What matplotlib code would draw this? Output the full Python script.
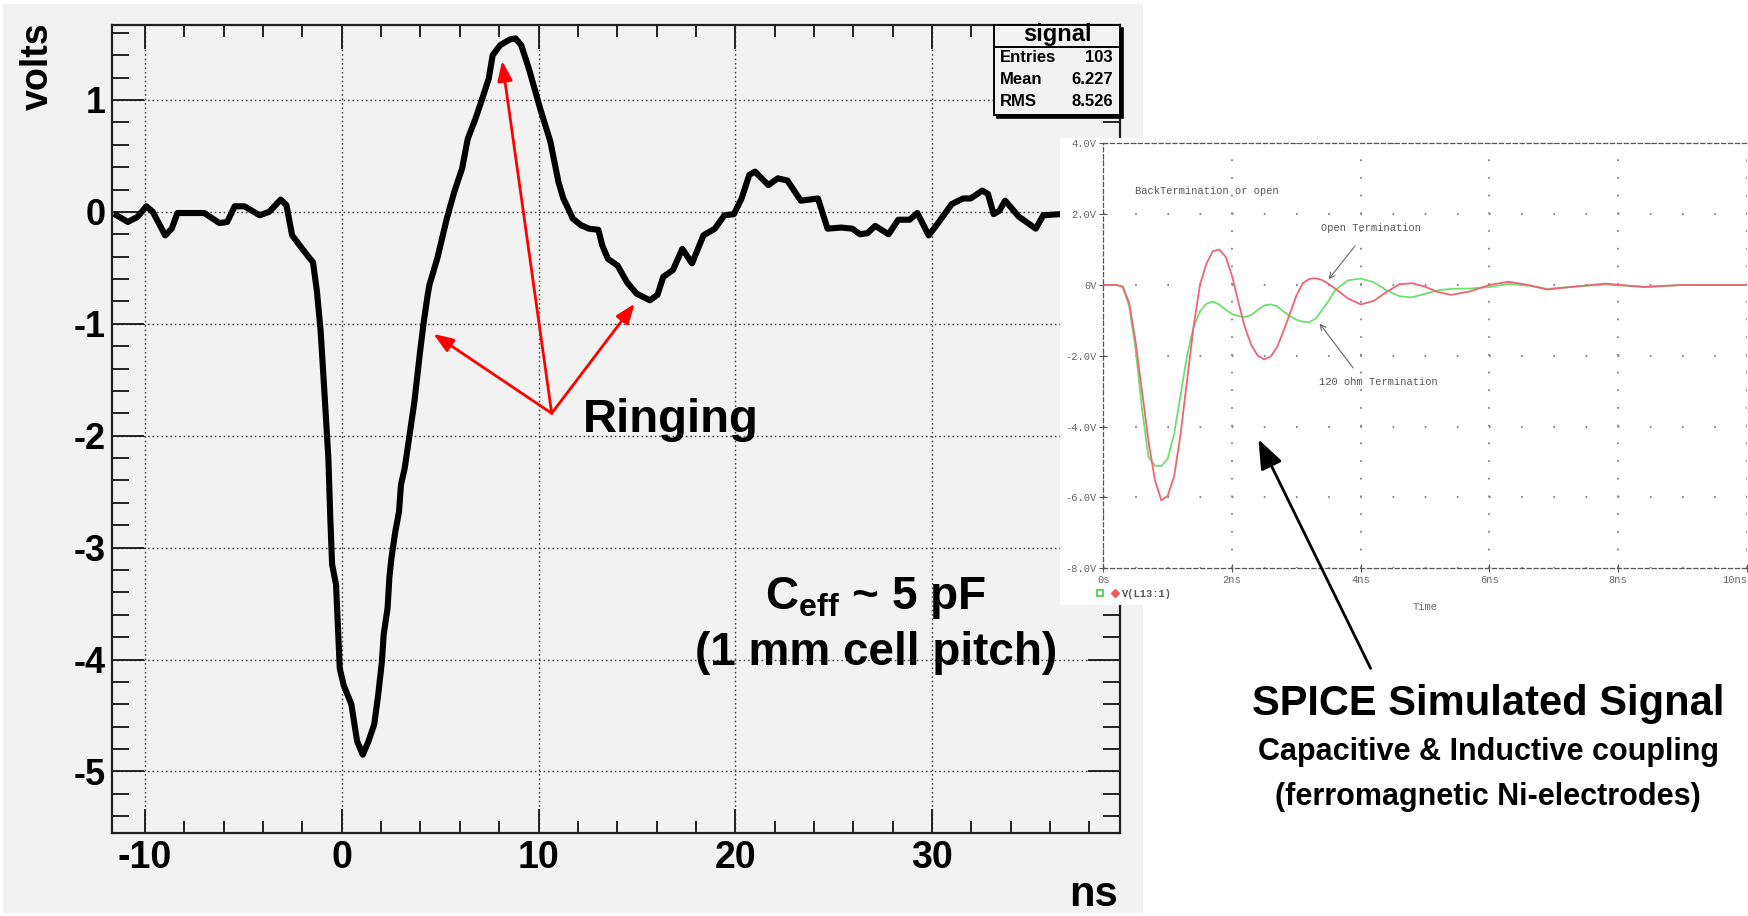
import matplotlib
matplotlib.use("Agg")
import matplotlib.pyplot as plt
from matplotlib.patches import Rectangle
from matplotlib.lines import Line2D
from matplotlib.legend_handler import HandlerTuple
from matplotlib.ticker import MultipleLocator, FixedLocator

plt.rcParams['font.family'] = ['Liberation Sans', 'DejaVu Sans']
plt.rcParams['font.weight'] = 'bold'
plt.rcParams['axes.unicode_minus'] = False
plt.rcParams['lines.scale_dashes'] = False
plt.rcParams['mathtext.fontset'] = 'custom'
plt.rcParams['mathtext.rm'] = 'Liberation Sans:bold'
plt.rcParams['mathtext.bf'] = 'Liberation Sans:bold'
plt.rcParams['mathtext.it'] = 'Liberation Sans:bold'

# measured signal (ns, volts)
ns_vals = [-11.45, -10.87, -10.38, -9.93, -9.6, -8.97, -8.64, -8.35, -6.99, -6.21,
           -5.82, -5.44, -4.95, -4.17, -3.69, -3.10, -2.81, -2.52, -2.13, -1.74,
           -1.46, -1.26, -1.07, -0.87, -0.68, -0.58, -0.49, -0.29, -0.19, -0.10,
           0.10, 0.49, 0.78, 1.07, 1.36, 1.65, 1.85, 2.04, 2.13, 2.33,
           2.42, 2.52, 2.72, 2.91, 3.01, 3.20, 3.40, 3.69, 3.98, 4.17,
           4.37, 4.46, 4.85, 5.34, 5.72, 6.12, 6.40, 6.79, 7.08, 7.47,
           7.67, 8.05, 8.54, 8.83, 9.12, 9.51, 10.09, 10.60, 11.01, 11.26,
           11.59, 11.74, 12.17, 12.56, 13.04, 13.24, 13.53, 14.02, 14.50, 14.98,
           15.66, 16.05, 16.34, 16.83, 17.31, 17.80, 18.38, 18.96, 19.45, 19.93,
           20.32, 20.71, 21.0, 21.68, 22.16, 22.65, 23.33, 24.2, 24.69, 25.37,
           25.95, 26.34, 26.72, 27.11, 27.79, 28.28, 28.86, 29.25, 29.83, 30.22,
           31.0, 31.58, 31.96, 32.55, 32.84, 33.13, 33.42, 33.71, 34.01, 34.39,
           35.27, 35.65, 36.53, 37.0]
volts_vals = [-0.03, -0.09, -0.045, 0.05, 0.0, -0.21, -0.15, -0.01, -0.01, -0.10,
              -0.09, 0.05, 0.05, -0.03, 0.0, 0.11, 0.06, -0.21, -0.30, -0.39,
              -0.45, -0.71, -1.07, -1.64, -2.20, -2.74, -3.15, -3.33, -3.72, -4.08,
              -4.23, -4.40, -4.73, -4.85, -4.73, -4.58, -4.32, -4.02, -3.78, -3.54,
              -3.27, -3.10, -2.86, -2.68, -2.44, -2.29, -2.05, -1.70, -1.25, -0.98,
              -0.74, -0.65, -0.42, -0.06, 0.18, 0.39, 0.65, 0.83, 0.98, 1.19,
              1.40, 1.49, 1.54, 1.55, 1.49, 1.28, 0.92, 0.63, 0.27, 0.12,
              0.0, -0.06, -0.12, -0.15, -0.16, -0.30, -0.42, -0.48, -0.63, -0.73,
              -0.79, -0.74, -0.58, -0.52, -0.33, -0.46, -0.21, -0.15, -0.03, -0.02,
              0.12, 0.33, 0.36, 0.24, 0.30, 0.28, 0.10, 0.12, -0.15, -0.14,
              -0.15, -0.20, -0.19, -0.125, -0.20, -0.07, -0.07, -0.01, -0.21, -0.12,
              0.07, 0.12, 0.12, 0.19, 0.16, -0.02, 0.01, 0.10, 0.04, -0.04,
              -0.15, -0.03, -0.02, -0.02]

stat_names = ["Entries", "Mean", "RMS"]
stat_values = ["103", "6.227", "8.526"]

# SPICE simulation (ns, V)
spice_t = [0, 0.2, 0.3, 0.4, 0.5, 0.6, 0.7, 0.8, 0.9, 1.0, 1.1, 1.2, 1.3, 1.4, 1.5,
           1.6, 1.7, 1.8, 1.9, 2.0, 2.1, 2.2, 2.3, 2.4, 2.5, 2.6, 2.7, 2.8, 2.9, 3.0,
           3.1, 3.2, 3.3, 3.4, 3.5, 3.6, 3.8, 4.0, 4.2, 4.4, 4.6, 4.8, 5.0, 5.2, 5.4,
           5.7, 6.0, 6.3, 6.6, 6.9, 7.3, 7.8, 8.4, 9.0, 10.0]
v_open = [0, 0, -0.05, -0.5, -1.6, -3.0, -4.4, -5.5, -6.08, -5.95, -5.4, -4.2, -2.7, -1.2, 0.0,
          0.6, 0.95, 1.0, 0.8, 0.25, -0.5, -1.2, -1.7, -2.0, -2.1, -2.02, -1.75, -1.3, -0.8, -0.3,
          0.05, 0.17, 0.19, 0.14, 0.03, -0.1, -0.38, -0.55, -0.45, -0.2, 0.02, 0.05, -0.05, -0.2, -0.28,
          -0.18, 0.0, 0.09, 0.0, -0.13, -0.05, 0.04, -0.06, 0.0, 0.0]
v_120 = [0, 0, -0.05, -0.6, -1.8, -3.5, -4.85, -5.1, -5.12, -4.9, -4.2, -3.1, -2.0, -1.2, -0.75,
         -0.53, -0.47, -0.55, -0.7, -0.82, -0.88, -0.9, -0.85, -0.7, -0.58, -0.55, -0.6, -0.75, -0.88, -0.98,
         -1.04, -1.05, -0.95, -0.7, -0.45, -0.15, 0.13, 0.18, 0.08, -0.15, -0.32, -0.35, -0.25, -0.15, -0.11,
         -0.1, -0.06, 0.03, -0.02, -0.11, -0.05, 0.01, -0.05, 0.0, 0.0]
spice_yticks = [-8, -6, -4, -2, 0, 2, 4]
spice_ylabels = ["-8.0V", "-6.0V", "-4.0V", "-2.0V", "0V", "2.0V", "4.0V"]
spice_xticks = [0, 2, 4, 6, 8, 10]
spice_xlabels = ["0s", "2ns", "4ns", "6ns", "8ns", "10ns"]

W, H = 1748, 916
fig = plt.figure(figsize=(W / 100, H / 100), dpi=100, facecolor='white')

# grey canvas of the ROOT plot
fig.add_artist(Rectangle((3 / W, 3 / H), 1140 / W, 909 / H, transform=fig.transFigure,
                         fc='#f2f2f2', ec='none', zorder=0))

ax = fig.add_axes([111.5 / W, 1 - 833 / H, 1008.5 / W, 808 / H], zorder=1)
ax.set_facecolor('none')
ax.plot(ns_vals, volts_vals, color='black', lw=4.4, solid_joinstyle='round')
ax.set_xlim(-11.7, 39.55)
ax.set_ylim(-5.55, 1.67)
ax.xaxis.set_major_locator(MultipleLocator(10))
ax.xaxis.set_minor_locator(MultipleLocator(2))
ax.yaxis.set_major_locator(MultipleLocator(1))
ax.yaxis.set_minor_locator(MultipleLocator(0.2))
ax.tick_params(which='both', direction='in', top=True, right=True, color='#222', width=1.4)
ax.tick_params(axis='x', which='major', length=17, labelsize=27, pad=5)
ax.tick_params(axis='x', which='minor', length=8.5)
ax.tick_params(axis='y', which='major', length=23, labelsize=26, pad=4)
ax.tick_params(axis='y', which='minor', length=12)
for s in ax.spines.values():
    s.set_linewidth(1.6)
    s.set_color('#222')
ax.grid(True, which='major', color='#444', lw=1.0, linestyle=(0, (1.2, 2.0)))

fig.text(38 / W, 1 - 22 / H, "volts", rotation=90, ha='center', va='top', fontsize=27)
fig.text(1118 / W, 1 - 906 / H, "ns", ha='right', va='baseline', fontsize=30)

# stats box
bx0, bx1, by0, by1, bsep = 0.875, 1.0, 0.8886, 1.0, 0.9731
ax.add_patch(Rectangle((bx0 + 0.003, by0 - 0.004), bx1 - bx0, by1 - by0, transform=ax.transAxes,
                       fc='black', ec='black', lw=1.2, zorder=5, clip_on=False))
ax.add_patch(Rectangle((bx0, by0), bx1 - bx0, by1 - by0, transform=ax.transAxes,
                       fc='#f2f2f2', ec='black', lw=1.4, zorder=6, clip_on=False))
ax.plot([bx0, bx1], [bsep, bsep], transform=ax.transAxes, color='black', lw=1.4, zorder=7)
ax.text(0.9375, 0.988, "signal", transform=ax.transAxes, ha='center', va='center',
        fontsize=17, zorder=8)
for i, (nm, val) in enumerate(zip(stat_names, stat_values)):
    yy = 0.9592 - i * 0.0272
    ax.text(0.881, yy, nm, transform=ax.transAxes, ha='left', va='center', fontsize=12, zorder=8)
    ax.text(0.993, yy, val, transform=ax.transAxes, ha='right', va='center', fontsize=12, zorder=8)

# ringing annotation
ring_src = (10.67, -1.80)
ring_tips = [(8.15, 1.35), (4.66, -1.09), (14.89, -0.82)]
for tip in ring_tips:
    ax.annotate('', xy=tip, xytext=ring_src,
                arrowprops=dict(arrowstyle='-|>,head_length=0.8,head_width=0.3', color='red',
                                lw=2, mutation_scale=15, shrinkA=0, shrinkB=0))
ax.text(12.25, -1.964, "Ringing", ha='left', va='baseline', fontsize=34)
ax.text(27.1, -3.545, r"C$_{\mathrm{eff}}$ ~ 5 pF", ha='center', va='baseline', fontsize=33)
ax.text(27.15, -4.045, "(1 mm cell pitch)", ha='center', va='baseline', fontsize=33)

# SPICE inset
fig.add_artist(Rectangle((1060 / W, 1 - 605 / H), (W - 1060) / W, 467 / H, transform=fig.transFigure,
                         fc='white', ec='none', zorder=2))
ax2 = fig.add_axes([1103.4 / W, 1 - 568.3 / H, 643.4 / W, 425 / H], zorder=3)
ax2.set_facecolor('white')
ax2.plot(spice_t, v_120, color='#6ee06e', lw=1.3)
ax2.plot(spice_t, v_open, color='#f06474', lw=1.3)
ax2.set_xlim(0, 10)
ax2.set_ylim(-8, 4)
ax2.yaxis.set_major_locator(FixedLocator(spice_yticks))
ax2.set_yticklabels(spice_ylabels)
ax2.xaxis.set_major_locator(FixedLocator(spice_xticks))
ax2.set_xticklabels(spice_xlabels)
mono = dict(family=['Liberation Mono', 'DejaVu Sans Mono'], weight='normal')
for lab in ax2.get_xticklabels() + ax2.get_yticklabels():
    lab.set_fontproperties(mono)
    lab.set_fontsize(7.5)
    lab.set_color('#666')
ax2.get_xticklabels()[-1].set_horizontalalignment('right')
ax2.tick_params(direction='inout', length=6, width=0.8, color='#555', pad=2)
for side in ['left', 'top', 'bottom']:
    ax2.spines[side].set_linestyle((0, (3, 2)))
    ax2.spines[side].set_color('#555')
    ax2.spines[side].set_linewidth(0.9)
ax2.spines['right'].set_visible(False)
ax2.xaxis.grid(True, color='#888', lw=1.5, linestyle=(0, (1.2, 11.54)))
ax2.yaxis.grid(True, color='#888', lw=1.5, linestyle=(0, (1.2, 21.96)))
ax2.set_axisbelow(True)
ax2.set_xlabel("Time", fontsize=7.5, color='#666', labelpad=12, **mono)

ax2.text(0.485, 2.66, "BackTermination or open", fontsize=7.5, color='#555', va='center', **mono)
ax2.text(3.38, 1.60, "Open Termination", fontsize=7.5, color='#555', va='center', **mono)
ax2.text(3.35, -2.73, "120 ohm Termination", fontsize=7.5, color='#555', va='center', **mono)
ax2.annotate('', xy=(3.50, 0.16), xytext=(3.91, 1.10),
             arrowprops=dict(arrowstyle='->', color='#666', lw=0.8, shrinkA=0, shrinkB=0))
ax2.annotate('', xy=(3.36, -1.09), xytext=(3.88, -2.34),
             arrowprops=dict(arrowstyle='->', color='#666', lw=0.8, shrinkA=0, shrinkB=0))

h_g = Line2D([], [], marker='s', mfc='none', mec='#44cc44', ls='none', ms=5, mew=1.2)
h_r = Line2D([], [], marker='D', color='#f05a5a', ls='none', ms=4)
ax2.legend([(h_g, h_r)], ["V(L13:1)"], handler_map={tuple: HandlerTuple(ndivide=None, pad=0.8)},
           loc='upper left', bbox_to_anchor=(-0.01, -0.048), frameon=False,
           prop=dict(family=['Liberation Mono', 'DejaVu Sans Mono'], size=7.5),
           labelcolor='#555', handlelength=2.0, handletextpad=0.4, borderaxespad=0, borderpad=0)

ax2.annotate('', xy=(2.41, -4.36), xycoords='data',
             xytext=(1370.6 / W, 1 - 668.3 / H), textcoords='figure fraction',
             arrowprops=dict(arrowstyle='-|>,head_length=0.9,head_width=0.35', color='black',
                             lw=2, mutation_scale=20, shrinkA=0, shrinkB=0), annotation_clip=False)

fig.text(1488 / W, 1 - 704 / H, "SPICE Simulated Signal", ha='center', va='center', fontsize=30)
fig.text(1488 / W, 1 - 752 / H, "Capacitive & Inductive coupling", ha='center', va='center', fontsize=22)
fig.text(1488 / W, 1 - 797 / H, "(ferromagnetic Ni-electrodes)", ha='center', va='center', fontsize=22)

fig.savefig("out.png", dpi=100)
